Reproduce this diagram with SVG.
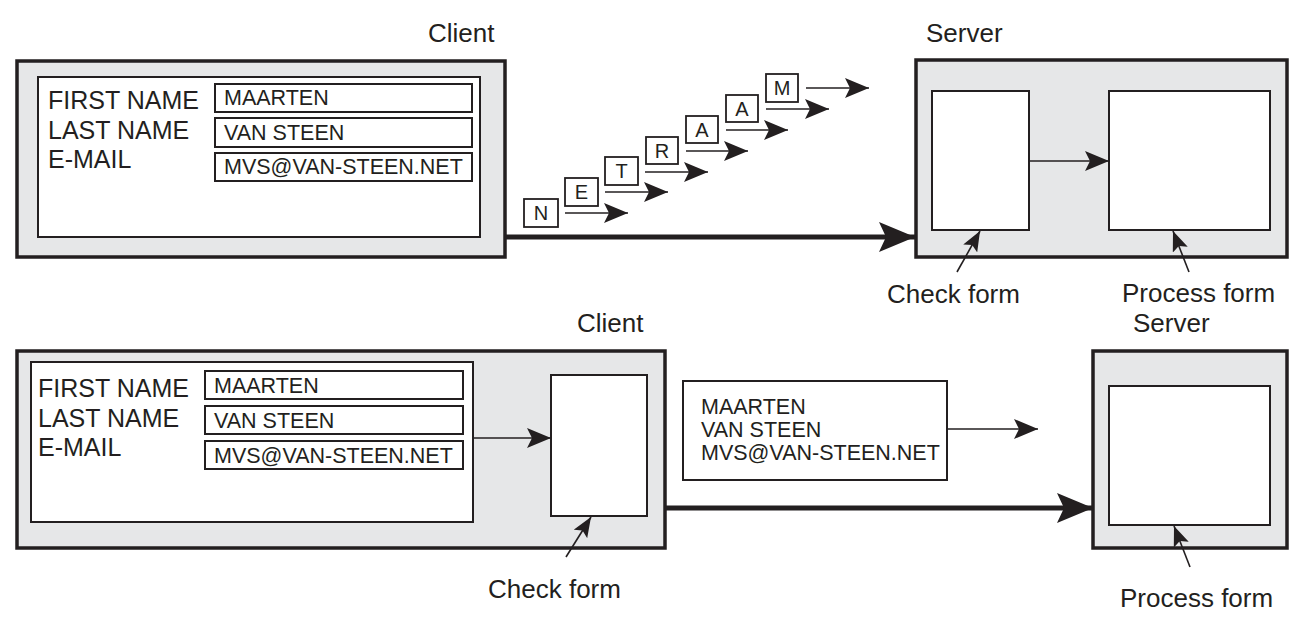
<svg xmlns="http://www.w3.org/2000/svg" width="1294" height="629" viewBox="0 0 1294 629">
<style>
text{font-family:"Liberation Sans",Arial,sans-serif;fill:#231f20}
.lbl{font-size:26px}
.fl{font-size:25px}
.fv{font-size:21.5px}
.lt{font-size:20px;text-anchor:middle}
.outer{fill:#e6e7e8;stroke:#231f20;stroke-width:3.5}
.inner{fill:#fff;stroke:#231f20;stroke-width:2}
.field{fill:#fff;stroke:#231f20;stroke-width:2}
.lbox{fill:#fff;stroke:#231f20;stroke-width:1.8}
.thin{fill:none;stroke:#231f20;stroke-width:1.6}
.thick{fill:none;stroke:#231f20;stroke-width:5}
</style>
<defs>
<marker id="ah" viewBox="0 0 24 20" refX="24" refY="10" markerWidth="24" markerHeight="20" markerUnits="userSpaceOnUse" orient="auto">
<path d="M0,0 L24,10 L0,20 L5,10 Z" fill="#231f20"/>
</marker>
<marker id="ahb" viewBox="0 0 36 30" refX="36" refY="15" markerWidth="36" markerHeight="30" markerUnits="userSpaceOnUse" orient="auto">
<path d="M0,0 L36,15 L0,30 L7,15 Z" fill="#231f20"/>
</marker>
<marker id="ahs" viewBox="0 0 20 16" refX="20" refY="8" markerWidth="20" markerHeight="16" markerUnits="userSpaceOnUse" orient="auto">
<path d="M0,0 L20,8 L0,16 L4,8 Z" fill="#231f20"/>
</marker>
</defs>

<!-- Top section -->
<text class="lbl" x="428" y="42">Client</text>
<text class="lbl" x="926" y="42">Server</text>

<g id="client-top">
<rect class="outer" x="17" y="61" width="488" height="196"/>
<rect class="inner" x="38" y="77" width="442" height="160"/>
<text class="fl" x="48" y="109">FIRST NAME</text>
<text class="fl" x="48" y="139">LAST NAME</text>
<text class="fl" x="48" y="168">E-MAIL</text>
<rect class="field" x="215" y="84" width="257" height="28"/>
<rect class="field" x="215" y="118" width="257" height="29"/>
<rect class="field" x="215" y="153" width="257" height="28"/>
<text class="fv" x="224" y="105">MAARTEN</text>
<text class="fv" x="224" y="140">VAN STEEN</text>
<text class="fv" x="224" y="174">MVS@VAN-STEEN.NET</text>
</g>

<g id="packets">
<rect class="lbox" x="524" y="199" width="34" height="28"/><text class="lt" x="541" y="220">N</text>
<rect class="lbox" x="565" y="178" width="33" height="28"/><text class="lt" x="581.5" y="199">E</text>
<rect class="lbox" x="605" y="157" width="33" height="28"/><text class="lt" x="621.5" y="178">T</text>
<rect class="lbox" x="646" y="137" width="32" height="27"/><text class="lt" x="662" y="158">R</text>
<rect class="lbox" x="686" y="116" width="32" height="27"/><text class="lt" x="702" y="137">A</text>
<rect class="lbox" x="726" y="95" width="32" height="27"/><text class="lt" x="742" y="116">A</text>
<rect class="lbox" x="766" y="74" width="32" height="28"/><text class="lt" x="782" y="95">M</text>
</g>

<g id="server-top">
<rect class="outer" x="916" y="60" width="371" height="197"/>
<rect class="inner" x="932" y="91" width="97" height="139"/>
<rect class="inner" x="1109" y="91" width="161" height="139"/>
<text class="lbl" x="887" y="303">Check form</text>
<text class="lbl" x="1122" y="302">Process form</text>
</g>

<!-- Bottom section -->
<text class="lbl" x="577" y="332">Client</text>
<text class="lbl" x="1133" y="332">Server</text>

<g id="client-bottom">
<rect class="outer" x="17" y="351" width="648" height="197"/>
<rect class="inner" x="31" y="362" width="442" height="160"/>
<text class="fl" x="38" y="397">FIRST NAME</text>
<text class="fl" x="38" y="427">LAST NAME</text>
<text class="fl" x="38" y="456">E-MAIL</text>
<rect class="field" x="205" y="371" width="258" height="28"/>
<rect class="field" x="205" y="406" width="258" height="28"/>
<rect class="field" x="205" y="441" width="258" height="28"/>
<text class="fv" x="214" y="393">MAARTEN</text>
<text class="fv" x="214" y="428">VAN STEEN</text>
<text class="fv" x="214" y="463">MVS@VAN-STEEN.NET</text>
<rect class="inner" x="551" y="375" width="96" height="141"/>
<text class="lbl" x="488" y="598">Check form</text>
</g>

<g id="message">
<rect class="inner" x="683" y="381" width="264" height="99"/>
<text class="fv" x="701" y="414">MAARTEN</text>
<text class="fv" x="701" y="437">VAN STEEN</text>
<text class="fv" x="701" y="460">MVS@VAN-STEEN.NET</text>
</g>

<g id="server-bottom">
<rect class="outer" x="1093" y="351" width="194" height="197"/>
<rect class="inner" x="1109" y="386" width="161" height="139"/>
<text class="lbl" x="1120" y="607">Process form</text>
</g>

<g id="connectors">
<line class="thick" x1="505" y1="237" x2="915" y2="237" marker-end="url(#ahb)"/>
<line class="thin" x1="565" y1="213" x2="628" y2="213" marker-end="url(#ah)"/>
<line class="thin" x1="605" y1="192" x2="668" y2="192" marker-end="url(#ah)"/>
<line class="thin" x1="645" y1="172" x2="708" y2="172" marker-end="url(#ah)"/>
<line class="thin" x1="686" y1="151" x2="748" y2="151" marker-end="url(#ah)"/>
<line class="thin" x1="726" y1="130" x2="788" y2="130" marker-end="url(#ah)"/>
<line class="thin" x1="766" y1="109" x2="829" y2="109" marker-end="url(#ah)"/>
<line class="thin" x1="806" y1="88" x2="869" y2="88" marker-end="url(#ah)"/>
<line class="thin" x1="1029" y1="161" x2="1109" y2="161" marker-end="url(#ah)"/>
<line class="thin" x1="957" y1="272" x2="980" y2="231" marker-end="url(#ahs)"/>
<line class="thin" x1="1189" y1="272" x2="1173" y2="231" marker-end="url(#ahs)"/>

<line class="thin" x1="473" y1="438" x2="551" y2="438" marker-end="url(#ah)"/>
<line class="thin" x1="566" y1="557" x2="591" y2="517" marker-end="url(#ahs)"/>
<line class="thick" x1="665" y1="508" x2="1093" y2="508" marker-end="url(#ahb)"/>
<line class="thin" x1="947" y1="429" x2="1038" y2="429" marker-end="url(#ah)"/>
<line class="thin" x1="1190" y1="567" x2="1174" y2="526" marker-end="url(#ahs)"/>
</g>
</svg>
